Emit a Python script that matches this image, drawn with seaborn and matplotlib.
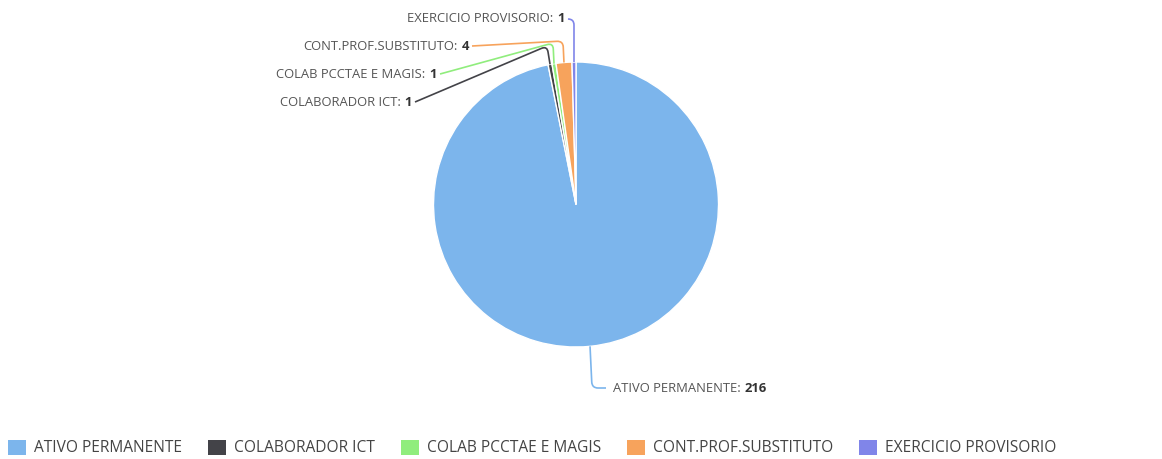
import numpy as np
import matplotlib
matplotlib.use("Agg")
import matplotlib.pyplot as plt
from matplotlib.path import Path
from matplotlib.patches import PathPatch, Patch
import seaborn as sns

# Staff counts by employment category
categories = ["ATIVO PERMANENTE", "COLABORADOR ICT", "COLAB PCCTAE E MAGIS",
              "CONT.PROF.SUBSTITUTO", "EXERCICIO PROVISORIO"]
counts = [216, 1, 1, 4, 1]
palette = ["#7cb5ec", "#434348", "#90ed7d", "#f7a35c", "#8085e9"]

W, H = 1162, 459
sns.set_theme(style="white")
plt.rcParams["font.family"] = ["Open Sans", "DejaVu Sans"]

def pt(px):
    return px * 72.0 / 100.0

def Y(py):
    return H - py

fig = plt.figure(figsize=(W / 100, H / 100), dpi=100)
ax = fig.add_axes([0, 0, 1, 1])

cx, cy, R = 576, 204.5, 142.5
wedges, _ = ax.pie(counts, colors=sns.color_palette(palette), startangle=90,
                   counterclock=False, center=(cx, Y(cy)), radius=R,
                   wedgeprops=dict(edgecolor="white", linewidth=1))
ax.set_xlim(0, W)
ax.set_ylim(0, H)
ax.set_aspect("equal")
ax.axis("off")

# label layout: anchor (pixel), side, elbow height (pixel)
label_anchor = [(613, 388), (412, 102), (437, 74), (469, 46), (565, 19)]
label_side = ["left", "right", "right", "right", "right"]
elbow_y = [388, 46, 43, 41, 19]
elbow_dx = [2, -3, -1, -1, 0]

label_color = "#555555"
lfs = pt(13.0)

for w, name, val, (lx, ly), side, ey, edx, col in zip(
        wedges, categories, counts, label_anchor, label_side, elbow_y, elbow_dx, palette):
    mid = np.deg2rad((w.theta1 + w.theta2) / 2)
    ex = w.center[0] + w.r * np.cos(mid)
    ey0 = w.center[1] + w.r * np.sin(mid)
    kx, ky = ex + edx, Y(ey)
    if side == "left":
        end = (lx - 7, Y(ly))
        t = ax.text(lx, Y(ly), f"{name}: ", ha="left", va="center",
                    fontsize=lfs, color=label_color)
        ax.annotate(str(val), xy=(1, 0.5), xycoords=t, ha="left", va="center",
                    fontsize=lfs, color="#333333", fontweight="bold")
    else:
        end = (lx + 3, Y(ly))
        t = ax.text(lx, Y(ly), str(val), ha="right", va="center",
                    fontsize=lfs, color="#333333", fontweight="bold")
        ax.annotate(f"{name}:", xy=(0, 0.5), xycoords=t, xytext=(-pt(4), 0),
                    textcoords="offset points", ha="right", va="center",
                    fontsize=lfs, color=label_color)
    # connector with a rounded elbow
    P0 = np.array([ex, ey0])
    K = np.array([kx, ky])
    P2 = np.array(end)
    r = 6.0
    u0 = (P0 - K) / np.linalg.norm(P0 - K)
    u2 = (P2 - K) / np.linalg.norm(P2 - K)
    a = K + r * u0
    b = K + r * u2
    path = Path([P0, a, K, b, P2],
                [Path.MOVETO, Path.LINETO, Path.CURVE3, Path.CURVE3, Path.LINETO])
    ax.add_patch(PathPatch(path, facecolor="none", edgecolor=col, linewidth=1.2))

# legend along the bottom, starting at the left margin
fs_px = 15.5
handles = [Patch(facecolor=c, edgecolor="none") for c in palette]
leg = fig.legend(handles, categories, ncol=5, frameon=False,
                 loc="center left", bbox_to_anchor=(8 / W, 1 - 448 / H),
                 fontsize=pt(fs_px), handlelength=18 / fs_px, handleheight=18 / fs_px,
                 handletextpad=8 / fs_px, columnspacing=26 / fs_px,
                 borderpad=0, borderaxespad=0)
for txt in leg.get_texts():
    txt.set_color("#444444")

fig.savefig("out.png", dpi=100, facecolor="white")
